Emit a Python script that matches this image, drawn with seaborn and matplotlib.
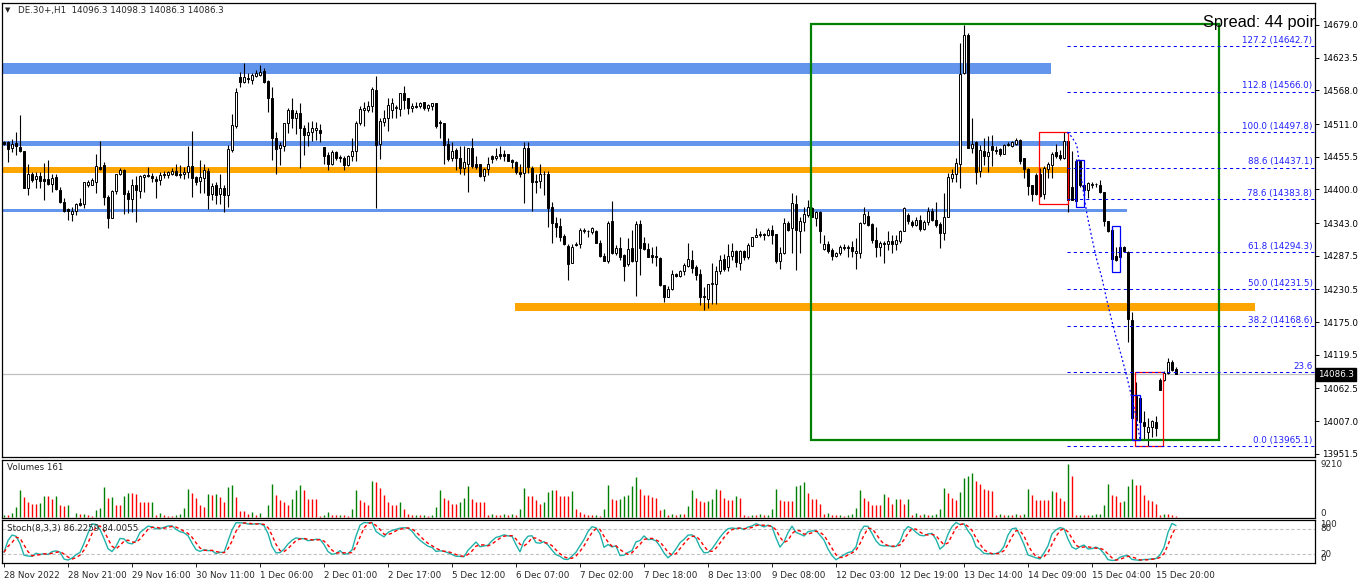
import numpy as np
import pandas as pd
import matplotlib
matplotlib.use("Agg")
import matplotlib.pyplot as plt
from matplotlib.patches import Rectangle
import seaborn as sns

# ---------------- data ----------------
opens = [
14480,14480,14470,14479,14472,14465,14402,14426,14417,14423,
14418,14418,14410,14421,14399,14379,14367,14359,14363,14377,
14375,14408,14408,14413,14438,14442,14387,14352,14398,14426,
14433,14394,14384,14408,14397,14422,14424,14423,14418,14416,
14425,14425,14426,14431,14426,14426,14429,14440,14421,14414,
14419,14431,14392,14408,14392,14403,14390,14467,14507,14591,
14583,14589,14586,14593,14594,14601,14584,14555,14487,14470,
14474,14512,14535,14521,14529,14505,14492,14498,14501,14501,
14472,14459,14443,14463,14455,14453,14442,14456,14466,14512,
14535,14535,14541,14569,14477,14515,14521,14535,14539,14536,
14563,14556,14538,14541,14541,14548,14539,14541,14546,14514,
14513,14477,14454,14467,14453,14437,14443,14471,14443,14443,
14423,14434,14457,14453,14460,14460,14460,14450,14447,14429,
14428,14471,14437,14414,14414,14427,14426,14370,14344,14338,
14321,14305,14275,14306,14307,14330,14330,14328,14330,14310,
14288,14279,14347,14293,14300,14289,14273,14300,14279,14342,
14309,14299,14289,14287,14284,14238,14218,14231,14257,14254,
14261,14271,14280,14269,14257,14219,14215,14240,14240,14261,
14282,14268,14288,14295,14275,14295,14285,14305,14320,14325,
14324,14323,14332,14325,14279,14293,14344,14334,14375,14330,
14345,14357,14368,14352,14361,14299,14308,14297,14288,14292,
14302,14301,14302,14292,14292,14344,14355,14342,14315,14303,
14309,14308,14313,14307,14313,14329,14357,14345,14340,14348,
14333,14345,14364,14348,14341,14327,14354,14419,14427,14444,
14597,14662,14470,14480,14432,14465,14457,14473,14467,14469,
14461,14476,14473,14477,14484,14453,14435,14407,14425,14426,
14392,14434,14441,14463,14459,14453,14482,14405,14380,14449,
14408,14399,14407,14410,14408,14395,14346,14332,14287,14286,
14303,14294,14179,14049,14047,14006,13989,13997,14006,14077,
14077,14088,14107,14096.3]

highs = [
14483,14482,14486,14497,14526,14465,14443,14430,14429,14429,
14445,14450,14426,14426,14404,14385,14369,14371,14377,14385,
14413,14416,14419,14460,14482,14446,14391,14399,14427,14436,
14434,14399,14417,14423,14425,14426,14438,14428,14423,14430,
14431,14432,14436,14443,14442,14438,14474,14499,14423,14450,
14443,14436,14411,14412,14426,14408,14475,14528,14572,14600,
14615,14597,14597,14603,14611,14606,14586,14573,14497,14481,
14512,14538,14556,14535,14546,14509,14515,14516,14515,14511,
14472,14464,14467,14465,14458,14456,14459,14487,14516,14541,
14549,14550,14573,14592,14521,14535,14556,14556,14543,14563,
14575,14556,14546,14549,14549,14549,14545,14547,14546,14518,
14513,14487,14481,14471,14473,14474,14471,14488,14457,14444,
14437,14455,14459,14470,14473,14467,14460,14452,14448,14444,
14480,14480,14439,14427,14444,14431,14431,14378,14354,14352,
14324,14307,14307,14311,14334,14335,14331,14336,14331,14315,
14292,14347,14380,14306,14319,14291,14317,14331,14346,14348,
14320,14309,14303,14304,14286,14238,14236,14264,14258,14263,
14275,14309,14297,14272,14266,14235,14240,14275,14270,14289,
14291,14307,14310,14297,14297,14297,14309,14320,14334,14329,
14327,14334,14340,14325,14303,14351,14346,14394,14391,14354,
14371,14382,14371,14364,14363,14323,14312,14300,14294,14306,
14308,14306,14312,14317,14345,14370,14364,14343,14337,14312,
14312,14330,14323,14323,14332,14370,14360,14348,14354,14357,
14348,14371,14368,14379,14345,14394,14428,14434,14454,14648,
14679,14666,14521,14482,14476,14487,14490,14493,14473,14471,
14478,14481,14483,14487,14485,14454,14436,14408,14428,14436,
14439,14447,14463,14478,14467,14497.8,14484,14466,14451,14450,
14409,14413,14413,14411,14416,14396,14347,14337,14303,14308,
14305,14295,14192,14074,14050,14025,14012,14009,14015,14080,
14093,14115,14110,14098.3]

lows = [
14475,14447,14464,14459,14464,14402,14391,14413,14403,14402,
14382,14407,14396,14399,14377,14362,14349,14347,14357,14372,
14369,14405,14407,14394,14433,14374,14335,14352,14392,14424,
14358,14360,14361,14345,14386,14396,14421,14413,14386,14407,
14420,14419,14424,14423,14420,14418,14420,14388,14407,14394,
14394,14367,14382,14375,14375,14362,14371,14464,14504,14574,
14581,14581,14579,14590,14593,14580,14532,14450,14426,14442,
14465,14495,14504,14494,14436,14459,14473,14482,14484,14481,
14444,14433,14442,14450,14446,14433,14439,14448,14448,14509,
14508,14531,14531,14368,14452,14507,14499,14521,14521,14524,
14536,14528,14531,14538,14538,14534,14533,14534,14505,14488,
14443,14449,14448,14433,14427,14424,14395,14436,14435,14422,
14414,14425,14445,14450,14452,14448,14448,14437,14427,14422,
14377,14428,14364,14394,14402,14390,14337,14309,14320,14312,
14306,14247,14275,14304,14301,14326,14320,14325,14309,14285,
14278,14275,14291,14289,14280,14244,14270,14277,14219,14255,
14297,14285,14276,14270,14236,14210,14217,14230,14252,14251,
14255,14268,14259,14247,14204,14195,14199,14205,14205,14257,
14261,14262,14280,14269,14264,14280,14282,14304,14319,14319,
14314,14321,14308,14275,14265,14291,14329,14293,14264,14292,
14329,14354,14354,14338,14310,14297,14293,14281,14285,14289,
14297,14285,14285,14265,14283,14341,14338,14309,14285,14287,
14276,14297,14292,14297,14309,14329,14342,14336,14338,14330,
14332,14340,14347,14337,14300,14314,14354,14412,14412,14402,
14596,14470,14462,14409,14421,14442,14430,14439,14461,14457,
14461,14473,14472,14476,14443,14419,14391,14381,14391,14387,
14384,14419,14419,14453,14450,14452,14361,14382,14380,14405,
14389,14386,14402,14405,14394,14338,14328,14269,14278,14283,
14294,14142,14009,13975,13975,13976,13965.1,13981,13982,14060,
14076,14087,14093,14086.3]

closes = [
14477,14468,14478,14473,14466,14403,14426,14416,14423,14415,
14415,14409,14420,14400,14378,14364,14364,14363,14375,14373,
14412,14413,14416,14440,14435,14388,14352,14398,14426,14433,
14393,14384,14408,14399,14423,14425,14423,14420,14414,14425,
14427,14429,14431,14424,14424,14430,14440,14420,14413,14421,
14433,14391,14406,14391,14402,14390,14468,14510,14566,14583,
14590,14588,14594,14597,14599,14583,14555,14487,14468,14476,
14512,14535,14521,14529,14504,14492,14498,14504,14505,14496,
14457,14443,14464,14454,14453,14442,14457,14465,14512,14537,
14539,14542,14570,14475,14516,14522,14544,14546,14540,14563,
14552,14538,14542,14540,14546,14539,14543,14546,14508,14512,
14475,14452,14465,14453,14437,14446,14471,14439,14438,14423,
14435,14443,14451,14457,14457,14457,14449,14446,14429,14427,
14471,14438,14413,14413,14426,14426,14369,14344,14337,14320,
14307,14273,14302,14308,14331,14332,14329,14334,14310,14287,
14279,14344,14293,14300,14286,14271,14299,14279,14342,14300,
14299,14286,14285,14285,14238,14218,14232,14257,14254,14262,
14272,14282,14267,14255,14218,14217,14240,14241,14262,14280,
14265,14287,14296,14277,14296,14285,14306,14319,14323,14322,
14323,14332,14322,14279,14293,14344,14332,14377,14331,14347,
14359,14370,14354,14361,14329,14308,14296,14288,14292,14302,
14301,14302,14295,14296,14344,14358,14340,14314,14303,14309,
14308,14312,14308,14314,14330,14368,14346,14340,14348,14333,
14345,14364,14348,14340,14326,14354,14421,14426,14445,14596,
14662,14470,14478,14430,14467,14457,14463,14467,14466,14460,
14476,14477,14481,14484,14449,14435,14406,14392,14392,14389,
14436,14444,14461,14456,14453,14483,14383,14383,14449,14407,
14399,14411,14410,14409,14395,14346,14330,14282,14281,14303,
14295,14180,14012,14009,14005,13999,13998,14007,13995,14060,
14088,14107,14094,14086.3]

volumes = [
463,405,811,1795,4690,3532,2663,2374,2374,2490,
3648,3648,3242,3648,2200,1969,2200,116,811,521,
637,347,290,1216,1679,5211,3358,3532,2200,2084,
3648,4169,4169,4053,2663,2663,2606,2721,347,811,
347,290,232,463,637,1679,4979,4227,3416,2084,
1795,3995,3821,3995,3532,2663,5269,5558,3532,1042,
1042,637,926,463,811,116,2200,5732,3821,3011,
2663,2200,3242,4690,5674,4690,3242,3242,3242,232,
347,926,463,347,463,347,174,1505,4690,3069,
2663,2200,6253,6137,5153,3937,2663,2200,2084,2663,
1505,637,347,463,347,463,174,463,1795,4748,
3358,3069,2374,2374,2663,3358,5385,3242,2663,2663,
2663,347,637,463,347,579,347,637,347,1505,
5153,3706,3706,2953,2374,2663,4400,4690,4690,3706,
3706,3706,4516,1505,926,637,463,347,463,232,
1505,5674,3242,2953,3127,3706,3821,5443,6948,4979,
3821,3821,3532,3358,1216,1505,463,637,347,637,
637,1969,4690,3358,2779,2663,2837,3127,4864,4690,
3416,3069,3069,3648,3416,463,232,463,347,521,
347,463,1390,4979,2953,2837,2837,2837,5443,5674,
6137,4227,3127,3127,2258,637,811,463,347,463,
232,347,637,1621,4690,3358,2837,2084,2084,2084,
3995,3532,2374,3242,3242,2374,3242,463,811,463,
637,347,463,637,1505,5095,4227,3416,2953,4400,
6832,7180,7759,6253,5732,4979,4806,4574,463,637,
347,463,347,579,347,637,4979,3821,3069,3069,
3069,3069,4574,4400,3416,2837,9210,7122,347,463,
463,347,463,521,637,2084,5732,3937,3706,2663,
2779,5385,6601,5558,5558,3937,2953,2837,2374,347,
521,521,463,161]

price_ticks = [14679.0, 14623.5, 14568.0, 14511.0, 14455.5, 14400.0, 14343.0,
               14287.5, 14230.5, 14175.0, 14119.5, 14062.5, 14007.0, 13951.5]
time_label_bars = [0, 16, 32, 48, 64, 80, 96, 112, 128, 144, 160, 176, 192,
                   208, 224, 240, 256, 272, 288]
time_labels = ["28 Nov 2022", "28 Nov 21:00", "29 Nov 16:00", "30 Nov 11:00",
               "1 Dec 06:00", "2 Dec 01:00", "2 Dec 17:00", "5 Dec 12:00",
               "6 Dec 07:00", "7 Dec 02:00", "7 Dec 18:00", "8 Dec 13:00",
               "9 Dec 08:00", "12 Dec 03:00", "12 Dec 19:00", "13 Dec 14:00",
               "14 Dec 09:00", "15 Dec 04:00", "15 Dec 20:00"]

# horizontal zones (bar start, bar end, low price, high price, colour)
zone_start = [-1.0, -1.0, -1.0, -1.0, 127.75]
zone_end = [261.7, 265.8, 265.8, 280.7, 312.75]
zone_low = [14596.5, 14473.0, 14428.6, 14362.4, 14194.5]
zone_high = [14614.5, 14482.0, 14438.0, 14367.5, 14208.0]
zone_color = ["#6495ED", "#6495ED", "#FFA500", "#6495ED", "#FFA500"]

# fibonacci retracement
fib_levels = [127.2, 112.8, 100.0, 88.6, 78.6, 61.8, 50.0, 38.2, 23.6, 0.0]
fib_prices = [14642.7, 14566.0, 14497.8, 14437.1, 14383.8, 14294.3,
              14231.5, 14168.6, 14090.8, 13965.1]
fib_start_bar = 265.8
fib_curve_bars = [265.8, 266.9, 268.2, 269.4, 270.7, 271.9, 273.2, 274.4,
                  275.7, 276.9, 278.2, 279.4, 280.7, 281.9, 283.2, 284.0]
fib_curve_prices = [14497.0, 14489.6, 14475.5, 14416.0, 14359.6, 14320.0,
                    14280.5, 14252.2, 14212.6, 14178.7, 14144.8, 14116.5,
                    14082.6, 14048.7, 14009.1, 13975.2]

# rectangles (bar0, bar1, price0, price1)
green_box = (201.7, 303.75, 13975.2, 14680.7)
red_boxes = [(258.8, 265.9, 14374.9, 14497.8), (282.8, 289.8, 13965.6, 14090.0)]
blue_boxes = [(267.9, 269.9, 14370.9, 14449.5), (276.9, 278.9, 14259.6, 14338.1),
              (281.9, 283.9, 13975.2, 14051.0)]

last_price = 14086.3
symbol_text = "DE.30+,H1  14096.3 14098.3 14086.3 14086.3"
stoch_text = "Stoch(8,3,3) 86.2259 84.0055"
volume_text = "Volumes 161"
spread_text = "Spread: 44 poin"   # visible (clipped) part of the chart comment

# ---------------- figure ----------------
sns.set_style("white")
plt.rcParams['font.family'] = ['DejaVu Sans']

W, H = 1362, 585
fig = plt.figure(figsize=(W / 100, H / 100), dpi=100, facecolor="white")


def box(x0, y0, x1, y1):
    return [x0 / W, 1 - y1 / H, (x1 - x0) / W, (y1 - y0) / H]


def ftext(xp, yp, s, **kw):
    fig.text(xp / W, 1 - yp / H, s, **kw)


FS = 6.3
XMIN, XMAX = -0.5, 327.75

ax = fig.add_axes(box(2, 3, 1315, 457))
axv = fig.add_axes(box(2, 460, 1315, 518))
axs = fig.add_axes(box(2, 520, 1315, 563))

o = np.array(opens, float)
h = np.array(highs, float)
l = np.array(lows, float)
c = np.array(closes, float)
n = len(c)
idx = np.arange(n)

# zones
for s, e, lo, hi, col in zip(zone_start, zone_end, zone_low, zone_high, zone_color):
    ax.fill_between([s, e], lo, hi, color=col, lw=0, zorder=1)

# current price line
ax.axhline(last_price, color="#C0C0C0", lw=0.9, zorder=1.5)

# candles
ax.vlines(idx, l, h, color="black", lw=0.8, zorder=3)
up = c >= o
body_lo = np.minimum(o, c)
body_h = np.abs(c - o)
ax.bar(idx[up], body_h[up], bottom=body_lo[up], width=0.72, color="white",
       edgecolor="black", lw=0.7, zorder=4)
ax.bar(idx[~up], body_h[~up], bottom=body_lo[~up], width=0.72, color="black",
       edgecolor="black", lw=0.7, zorder=4)

# green box
gx0, gx1, gy0, gy1 = green_box
ax.add_patch(Rectangle((gx0, gy0), gx1 - gx0, gy1 - gy0, fill=False,
                       edgecolor="#008000", lw=1.6, zorder=5))
for bx0, bx1, by0, by1 in red_boxes:
    ax.add_patch(Rectangle((bx0, by0), bx1 - bx0, by1 - by0, fill=False,
                           edgecolor="#FF0000", lw=0.9, zorder=5))
for bx0, bx1, by0, by1 in blue_boxes:
    ax.add_patch(Rectangle((bx0, by0), bx1 - bx0, by1 - by0, fill=False,
                           edgecolor="#0000FF", lw=0.9, zorder=5))

# fibonacci
for lvl, p in zip(fib_levels, fib_prices):
    ax.plot([fib_start_bar, XMAX], [p, p], color="#0000FF", lw=0.75,
            dashes=(3, 3), zorder=5)
    lab = "23.6" if abs(lvl - 23.6) < 1e-6 else f"{lvl:.1f} ({p:.1f})"
    ax.text(XMAX - 0.6, p + 2.0, lab, ha="right", va="bottom", color="#2020FF",
            fontsize=FS, zorder=6)
ax.plot(fib_curve_bars, fib_curve_prices, color="#0000FF", lw=0.9,
        linestyle=(0, (1.5, 2)), zorder=5)

# spread comment (clipped by the chart frame)
ax.text(299.75, 14684, spread_text, ha="left", va="center", fontsize=11.8,
        family="Liberation Sans", color="black", clip_on=True, zorder=7)

ax.set_xlim(XMIN, XMAX)
ax.set_ylim(13946.3, 14716.3)
ax.set_xticks([])
ax.yaxis.tick_right()
ax.set_yticks(price_ticks)
ax.set_yticklabels([f"{p:.1f}" for p in price_ticks])
ax.tick_params(axis="y", length=3, width=0.7, pad=2, labelsize=FS,
               direction="out", colors="black")

# current price tag
ax.text(1.0025, last_price, f"{last_price:.1f}", transform=ax.get_yaxis_transform(),
        ha="left", va="center", color="white", fontsize=FS, zorder=10, clip_on=False,
        bbox=dict(facecolor="black", edgecolor="black", pad=1.6))

# ---------------- volumes ----------------
vol = np.array(volumes, float)
vcol = ["#008000" if (i == 0 or vol[i] > vol[i - 1]) else "#FF0000" for i in range(n)]
axv.vlines(idx, 0, vol, colors=vcol, lw=1.0)
axv.set_xlim(XMIN, XMAX)
axv.set_ylim(-120, 9210 * 58 / 53.5)
axv.set_xticks([])
axv.set_yticks([])
axv.text(1.004, 9210 * 58 / 53.5, "9210", transform=axv.get_yaxis_transform(),
         ha="left", va="top", fontsize=FS)
axv.text(1.004, -120, "0", transform=axv.get_yaxis_transform(),
         ha="left", va="bottom", fontsize=FS)

# ---------------- stochastic ----------------
ser_l = pd.Series(l).rolling(8, min_periods=1).min()
ser_h = pd.Series(h).rolling(8, min_periods=1).max()
num = (pd.Series(c) - ser_l).rolling(3, min_periods=1).sum()
den = (ser_h - ser_l).rolling(3, min_periods=1).sum()
k_line = (100 * num / den).fillna(50)
d_line = k_line.rolling(3, min_periods=1).mean()

axs.axhline(80, color="#C0C0C0", lw=0.8, dashes=(3, 2))
axs.axhline(20, color="#C0C0C0", lw=0.8, dashes=(3, 2))
sns.lineplot(x=idx, y=k_line.values, ax=axs, color="#20B2AA", lw=1.0)
sns.lineplot(x=idx, y=d_line.values, ax=axs, color="#FF0000", lw=1.0,
             linestyle=(0, (2.5, 2)))
axs.set_xlim(XMIN, XMAX)
axs.set_ylim(0, 100)
axs.set_ylabel("")
axs.set_yticks([])
for val, va in [(100, "top"), (80, "center"), (20, "center"), (0, "bottom")]:
    axs.text(1.004, val, str(val), transform=axs.get_yaxis_transform(),
             ha="left", va=va, fontsize=FS)
axs.set_xticks(time_label_bars)
axs.set_xticklabels(time_labels)
axs.tick_params(axis="x", length=3, width=0.7, pad=3, labelsize=FS,
                direction="out", bottom=True)
for t in axs.get_xticklabels():
    t.set_ha("left")

for a in (ax, axv, axs):
    for sp in a.spines.values():
        sp.set_color("black")
        sp.set_linewidth(0.9)
    a.set_facecolor("white")

# titles
ftext(5, 10, "\u25BC", fontsize=5, va="center", ha="left")
ftext(18, 10, symbol_text, fontsize=FS, va="center", ha="left")
ftext(7, 468, volume_text, fontsize=FS, va="center", ha="left")
ftext(7, 528, stoch_text, fontsize=FS, va="center", ha="left")

fig.savefig("out.png", dpi=100, facecolor="white")
